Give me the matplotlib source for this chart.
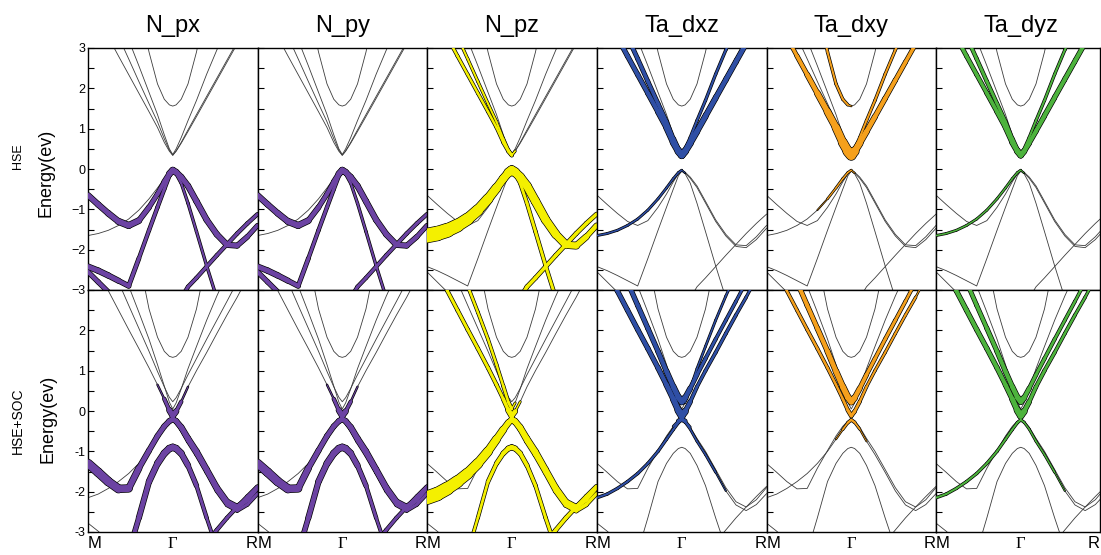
import numpy as np
import matplotlib
matplotlib.use('Agg')
import matplotlib.pyplot as plt
from matplotlib.collections import LineCollection

plt.rcParams['font.family'] = ['Liberation Sans', 'DejaVu Sans']

# k path M -> Gamma -> R (Gamma at 0.5)
K = [0, .06, .12, .18, .24, .30, .36, .41, .45, .48, .50, .52, .55, .59, .64, .70, .76, .82, .88, .94, 1.0]
N = None

# ---- HSE bands (top row), energies in eV
hse_bands = {
    'cb_up': [N, N, N, N, N, 4.1, 2.9, 2.11, 1.73, 1.59, 1.56, 1.59, 1.73, 2.11, 2.9, 4.1, N, N, N, N, N],
    'cb1': [4.1, 3.7, 3.27, 2.8, 2.34, 1.88, 1.42, 1.03, 0.66, 0.44, 0.34, 0.44, 0.64, 0.93, 1.3, 1.75, 2.2, 2.65, 3.1, 3.5, 3.9],
    'cb2': [N, N, 3.8, 3.28, 2.73, 2.17, 1.62, 1.17, 0.75, 0.47, 0.34, 0.45, 0.66, 0.97, 1.35, 1.8, 2.25, 2.7, 3.15, 3.55, N],
    'cb3': [N, N, N, 3.8, 3.2, 2.56, 1.9, 1.35, 0.85, 0.5, 0.36, 0.5, 0.78, 1.2, 1.7, 2.35, 2.95, 3.5, N, N, N],
    'vb1': [-0.65, -0.88, -1.1, -1.3, -1.4, -1.28, -0.95, -0.62, -0.32, -0.12, -0.03, -0.08, -0.2, -0.42, -0.8, -1.26, -1.62, -1.88, -1.9, -1.68, -1.4],
    'vb2': [-1.65, -1.6, -1.52, -1.4, -1.24, -1.02, -0.74, -0.47, -0.24, -0.09, -0.03, -0.1, -0.23, -0.46, -0.84, -1.3, -1.66, -1.92, -1.95, -1.75, -1.47],
    'vb3': [-2.42, -2.52, -2.64, -2.77, -2.9, -2.22, -1.52, -0.95, -0.5, -0.17, -0.05, -0.12, -0.35, -0.85, -1.55, -2.4, -3.2, N, N, N, N],
    'vb5': [-2.55, -2.8, -3.05, N, N, N, N, N, N, N, N, N, N, N, N, N, N, N, N, N, N],
    'vb6': [N, N, N, N, N, N, N, N, N, N, N, N, -3.2, -2.92, -2.7, -2.42, -2.14, -1.87, -1.6, -1.35, -1.12],
}

# ---- HSE+SOC bands (bottom row)
soc_bands = {
    'cb_up': [N, N, N, N, 5.4, 3.78, 2.53, 1.83, 1.48, 1.355, 1.33, 1.355, 1.48, 1.83, 2.53, 3.78, N, N, N, N, N],
    'cba': [4.0, 3.5, 2.98, 2.5, 2.02, 1.55, 1.07, 0.65, 0.3, 0.02, -0.12, -0.01, 0.23, 0.6, 1.0, 1.45, 1.92, 2.38, 2.82, 3.3, N],
    'cbb': [N, N, 3.8, 3.2, 2.62, 2.05, 1.48, 0.98, 0.6, 0.34, 0.23, 0.33, 0.56, 0.9, 1.3, 1.78, 2.25, 2.72, 3.2, N, N],
    'cbc': [N, N, N, 3.7, 3.1, 2.45, 1.78, 1.15, 0.62, 0.22, 0.05, 0.2, 0.55, 1.05, 1.6, 2.25, 2.85, 3.4, N, N, N],
    'vba': [-1.3, -1.52, -1.75, -1.93, -1.92, -1.42, -0.98, -0.62, -0.38, -0.25, -0.2, -0.25, -0.4, -0.68, -1.0, -1.45, -1.9, -2.25, -2.38, -2.2, -1.9],
    'vbb': [-2.15, -2.06, -1.92, -1.75, -1.55, -1.3, -1.0, -0.7, -0.46, -0.29, -0.22, -0.28, -0.45, -0.75, -1.08, -1.52, -1.98, -2.33, -2.47, -2.32, -2.05],
    'vbc': [N, N, N, N, -3.5, -2.65, -1.75, -1.3, -1.05, -0.93, -0.9, -0.93, -1.05, -1.35, -1.85, -2.65, -3.4, N, N, N, N],
    'vbd': [N, N, N, N, N, N, N, N, N, N, N, N, N, N, N, -3.25, -2.95, -2.65, -2.38, -2.12, -1.87],
    'vbe': [-2.78, -2.98, -3.2, N, N, N, N, N, N, N, N, N, N, N, N, N, N, N, N, N, N],
}

titles = ['N_px', 'N_py', 'N_pz', 'Ta_dxz', 'Ta_dxy', 'Ta_dyz']
colors = ['#6c43a3', '#6c43a3', '#f4f000', '#2f4fa5', '#f5a01c', '#4db33d']

# ---- orbital weights (fat band widths, px) on the K grid
w_top_npx = {
    'vb1': [5, 5, 5, 5.5, 6, 5, 4, 4, 4, 5, 6, 5, 5, 5, 5, 5, 5, 5, 4.5, 4, 3.5],
    'vb3': [5, 5, 5, 4.5, 4, 3, 3, 3, 3, 3, 3, 2.5, 2, 2, 2, 2, 2, 0, 0, 0, 0],
    'vb5': [4, 4, 4, 0, 0, 0, 0, 0, 0, 0, 0, 0, 0, 0, 0, 0, 0, 0, 0, 0, 0],
    'vb6': [0, 0, 0, 0, 0, 0, 0, 0, 0, 0, 0, 0, 3, 3, 3, 3, 3, 3, 3, 3, 3],
}
w_top_npz = {
    'vb2': [14, 14, 13, 12, 11, 10, 9, 8, 7, 8, 9, 0, 0, 0, 0, 0, 0, 0, 0, 0, 0],
    'vb1': [0, 0, 0, 0, 0, 0, 0, 0, 0, 0, 9, 8, 8, 8, 8, 8, 7.5, 7, 6, 5, 4],
    'vb3': [0, 0, 0, 0, 0, 0, 0, 0, 0, 0, 0, 3, 3, 3, 3, 3, 3, 0, 0, 0, 0],
    'vb6': [0, 0, 0, 0, 0, 0, 0, 0, 0, 0, 0, 0, 3.5, 3.5, 3.5, 3.5, 3.5, 3.5, 3.5, 3.5, 3.5],
    'cb1': [2.5, 2.5, 2.5, 2.5, 2.5, 2.5, 2.5, 2.5, 2.5, 3, 3, 0, 0, 0, 0, 0, 0, 0, 0, 0, 0],
    'cb2': [2, 2, 2, 2, 2, 2, 2, 2, 2, 2.5, 2.5, 0, 0, 0, 0, 0, 0, 0, 0, 0, 0],
}
w_top_dxz = {
    'cb1': [4, 4, 4, 4, 4, 4, 4.5, 5, 5.5, 6, 6.5, 6, 5.5, 5, 4.5, 4, 4, 4, 4, 4, 4],
    'cb2': [3.5, 3.5, 3.5, 3.5, 3.5, 3.5, 3.5, 3.5, 3.5, 5, 6, 4, 4, 3.5, 3.5, 3, 3, 3, 3, 3, 3],
    'cb3': [0, 0, 0, 0, 0, 0, 0, 0, 0, 0, 0, 2, 2, 2, 2, 2, 2, 2, 2, 2, 2],
    'vb2': [1.5, 1.5, 1.5, 1.5, 1.5, 1.5, 1.5, 1.5, 1.5, 1.5, 1.5, 0, 0, 0, 0, 0, 0, 0, 0, 0, 0],
}
w_top_dxy = {
    'cb1': [3, 3, 3, 3.5, 4, 5, 6, 7, 8, 9, 10, 7, 5.5, 5, 4.5, 4, 4, 3.5, 3.5, 3, 3],
    'cb_up': [2, 2, 2, 2, 2, 2, 2, 2, 2, 2, 0, 0, 0, 0, 0, 0, 0, 0, 0, 0, 0],
    'cb3': [0, 0, 0, 0, 0, 0, 0, 0, 0, 0, 0, 2, 2, 2, 2, 2, 2, 2, 2, 2, 2],
    'vb2': [0, 0, 0, 0, 0, 0, 1, 1.5, 1.5, 1.5, 1.5, 0, 0, 0, 0, 0, 0, 0, 0, 0, 0],
}
w_top_dyz = {
    'cb1': [3.5, 3.5, 3.5, 3.5, 3.5, 3.5, 4, 4, 4.5, 5, 5.5, 4.5, 4, 3.5, 3.5, 3, 3, 3, 3, 3, 3],
    'cb2': [3, 3, 3, 3, 3, 3, 3, 3, 3, 4, 5, 3, 3, 3, 3, 3, 3, 3, 3, 3, 3],
    'cb3': [0, 0, 0, 0, 0, 0, 0, 0, 0, 0, 0, 2, 2, 2, 2, 2, 2, 2, 2, 2, 2],
    'vb2': [1.5, 1.5, 1.5, 1.5, 1.5, 1.5, 1.5, 1.5, 1.5, 1.5, 1.5, 0, 0, 0, 0, 0, 0, 0, 0, 0, 0],
}

w_bot_npx = {
    'vba': [8, 8, 8, 7.5, 6.5, 5, 4.5, 4.5, 4.5, 4.5, 5, 4.5, 5, 5, 5, 5, 5, 5, 5, 4.5, 4],
    'vbb': [0, 0, 0, 0, 0, 0, 0, 0, 0, 0, 0, 3, 3, 3, 3, 3, 3, 3, 3, 3, 3],
    'vbc': [0, 0, 0, 0, 4, 4.5, 5, 5.5, 6, 6, 6, 6, 5.5, 4.5, 3.5, 2.5, 2.5, 0, 0, 0, 0],
    'vbd': [0, 0, 0, 0, 0, 0, 0, 0, 0, 0, 0, 0, 0, 0, 0, 3, 3, 3, 3, 3, 3],
    'cba': [0, 0, 0, 0, 0, 0, 0, 0, 2, 4, 6, 4, 2, 0, 0, 0, 0, 0, 0, 0, 0],
}
w_bot_npz = {
    'vbb': [13, 13, 12, 11, 10, 9, 8, 7, 6, 5, 5, 4.5, 4.5, 4.5, 4.5, 4.5, 4.5, 4.5, 4, 3.5, 3],
    'vba': [0, 0, 0, 0, 0, 0, 0, 0, 0, 0, 5, 5, 5, 5, 5, 5, 5, 5, 4.5, 4, 3.5],
    'vbc': [0, 0, 0, 0, 2.5, 2.5, 3, 3.5, 4, 4.5, 5, 4.5, 4, 3.5, 3, 3, 3, 0, 0, 0, 0],
    'vbd': [0, 0, 0, 0, 0, 0, 0, 0, 0, 0, 0, 0, 0, 0, 0, 3.5, 3.5, 3.5, 3.5, 3.5, 3.5],
    'cba': [3, 3, 3, 3, 3, 3, 3, 3, 3, 4, 6, 3, 0, 0, 0, 0, 0, 0, 0, 0, 0],
    'cbc': [2.5, 2.5, 2.5, 2.5, 2.5, 2.5, 2.5, 2.5, 2.5, 3, 3, 0, 0, 0, 0, 0, 0, 0, 0, 0, 0],
}
w_bot_dxz = {
    'cba': [4, 4, 4, 4, 4, 4, 4, 4.5, 5, 6, 7, 5, 3, 2.5, 2.5, 2.5, 2.5, 2.5, 2, 2, 0],
    'cbb': [0, 0, 4, 4, 4, 4, 4, 4.5, 5, 5.5, 6, 5, 4, 3, 3, 2.5, 2.5, 2.5, 2, 0, 0],
    'cbc': [0, 0, 0, 0, 0, 0, 0, 0, 0, 0, 0, 0, 1.5, 1.5, 1.5, 1.5, 1.5, 1.5, 0, 0, 0],
    'vbb': [2, 2, 2, 2, 2, 2, 2, 2, 2, 2, 2, 1.5, 1.5, 1.5, 1.5, 1.5, 0, 0, 0, 0, 0],
    'vba': [0, 0, 0, 0, 0, 0, 0, 0, 0, 3, 4, 3, 0, 0, 0, 0, 0, 0, 0, 0, 0],
}
w_bot_dxy = {
    'cbb': [0, 0, 4, 4, 4, 4, 4.5, 5, 5.5, 6, 6, 5, 4, 3.5, 3, 3, 3, 2.5, 2.5, 0, 0],
    'cba': [2.5, 2.5, 2.5, 2.5, 2.5, 2.5, 2.5, 2.5, 2.5, 3, 3.5, 3, 2.5, 2, 2, 2, 2, 2, 2, 0, 0],
    'vbb': [0, 0, 0, 0, 0, 0, 0, 0, 1.5, 2, 2.5, 2, 1.5, 0, 0, 0, 0, 0, 0, 0, 0],
}
w_bot_dyz = {
    'cba': [4, 4, 4, 4, 4, 4, 4, 4, 4.5, 5.5, 6.5, 5, 3.5, 3, 3, 2.5, 2.5, 2.5, 2, 2, 0],
    'cbb': [0, 0, 3.5, 3.5, 3.5, 3.5, 4, 4, 4.5, 5, 5.5, 4.5, 3.5, 3, 3, 2.5, 2.5, 2.5, 2, 0, 0],
    'vbb': [2, 2, 2, 2, 2, 2, 2, 2, 2, 2, 2, 1.5, 1.5, 1.5, 1.5, 1.5, 0, 0, 0, 0, 0],
}

weights = [
    [w_top_npx, w_top_npx, w_top_npz, w_top_dxz, w_top_dxy, w_top_dyz],
    [w_bot_npx, w_bot_npx, w_bot_npz, w_bot_dxz, w_bot_dxy, w_bot_dyz],
]
row_bands = [hse_bands, soc_bands]


def draw_fat(ax, k, e, w, color):
    k = np.asarray(k, float)
    e = np.asarray(e, float)
    w = np.asarray(w, float)
    segs, lws = [], []
    for i in range(len(k) - 1):
        wi = (w[i] + w[i + 1]) / 2
        if wi <= 0 or np.isnan(e[i]) or np.isnan(e[i + 1]):
            continue
        segs.append([(k[i], e[i]), (k[i + 1], e[i + 1])])
        lws.append(wi * 0.72)
    if not segs:
        return
    lws = np.array(lws)
    ax.add_collection(LineCollection(segs, linewidths=lws + 1.0, colors='black',
                                     capstyle='round', joinstyle='round', zorder=2))
    ax.add_collection(LineCollection(segs, linewidths=lws, colors=color,
                                     capstyle='round', joinstyle='round', zorder=3))


W, H = 1101, 555
fig = plt.figure(figsize=(W / 100, H / 100), dpi=100)

lefts = [88, 257.5, 427, 597, 766.5, 936]
pw = 169.5
widths = [pw, pw, pw, pw, pw, 1100 - 936]
tops = [48, 290]
ph = 242

for r in range(2):
    bands = row_bands[r]
    for c in range(6):
        ax = fig.add_axes([lefts[c] / W, 1 - (tops[r] + ph) / H, widths[c] / W, ph / H])
        for name, e in bands.items():
            ax.plot(K, np.asarray(e, float), color='#3c3c3c', lw=0.6, zorder=1)
        for name, w in weights[r][c].items():
            draw_fat(ax, K, bands[name], w, colors[c])
        ax.set_xlim(0, widths[c] / pw)
        ax.set_ylim(-3, 3)
        for s in ax.spines.values():
            s.set_linewidth(1.0)
        ax.set_yticks([-3, -2, -1, 0, 1, 2, 3])
        ax.set_yticks(np.arange(-2.5, 3, 1.0), minor=True)
        ax.tick_params(axis='y', which='both', direction='in', length=4, width=0.8,
                       labelsize=9, pad=2, labelleft=(c == 0))
        if c == 0 and r == 1:
            ax.set_yticklabels(['-3', '-2', '-1', '0', '1', '2', ''])
        ax.set_xticks([0, 0.5, widths[c] / pw])
        ax.tick_params(axis='x', length=0, pad=3, labelsize=12)
        if r == 1:
            labs = ax.set_xticklabels(['M', 'Γ', 'R'])
            labs[0].set_ha('left')
            labs[2].set_ha('right')
            labs[1].set_family(['Liberation Serif', 'DejaVu Serif'])
        else:
            ax.set_xticklabels([])
        if r == 0:
            fig.text((lefts[c] + pw / 2) / W, 1 - 32 / H, titles[c], ha='center',
                     va='baseline', fontsize=17)

fig.text(18 / W, 1 - 156 / H, 'HSE', rotation=90, ha='center', va='center', fontsize=9)
fig.text(46 / W, 1 - 173 / H, 'Energy(ev)', rotation=90, ha='center', va='center', fontsize=13)
fig.text(18 / W, 1 - 421 / H, 'HSE+SOC', rotation=90, ha='center', va='center', fontsize=10)
fig.text(48 / W, 1 - 419 / H, 'Energy(ev)', rotation=90, ha='center', va='center', fontsize=13)

fig.savefig('out.png', dpi=100)
